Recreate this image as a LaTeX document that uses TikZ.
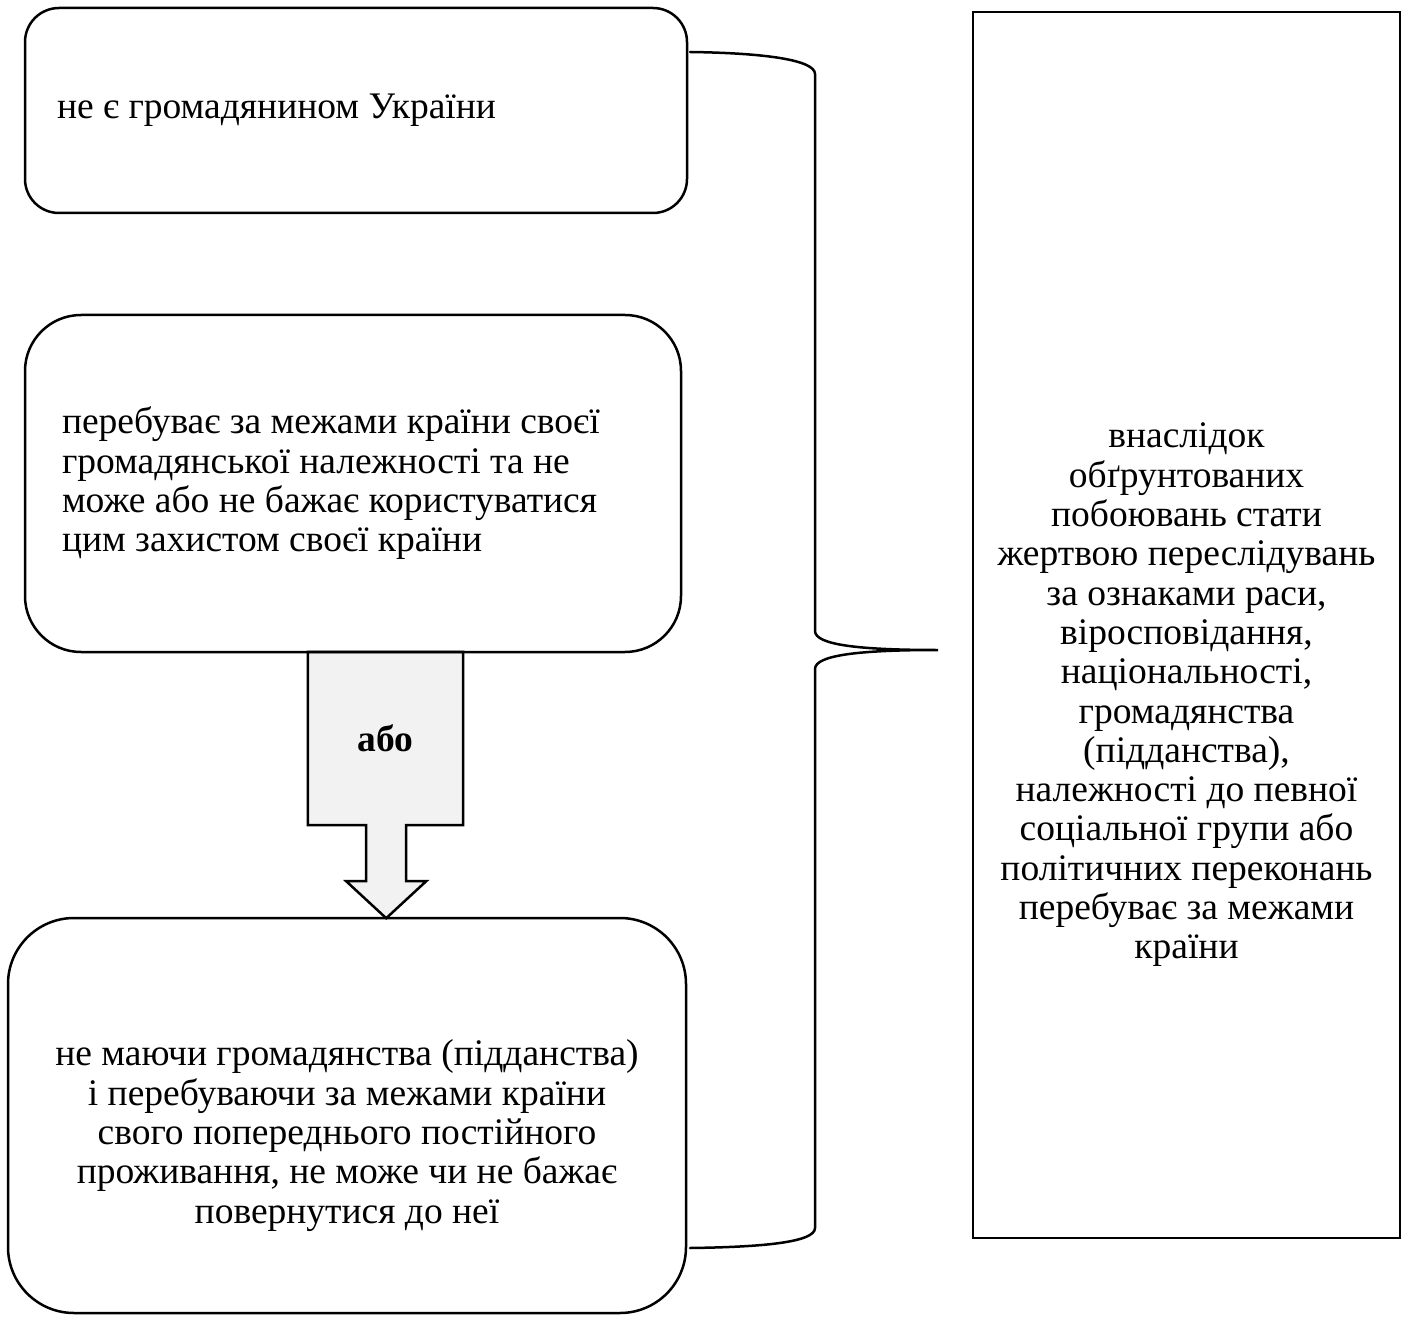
\documentclass[tikz,border=0pt]{standalone}
\usepackage{fontspec}
\setmainfont{Liberation Serif}
\usetikzlibrary{backgrounds}

\begin{document}
\begin{tikzpicture}[
    x=1pt,
    y=-1pt,
    font=\fontsize{37.5}{39.3}\selectfont,
    cond/.style={
        draw,
        line width=2.5pt,
        rounded corners=#1,
        inner ysep=0pt
    },
    cond/.default=34pt,
    result/.style={
        draw,
        line width=2.5pt,
        minimum width=427pt,
        minimum height=1226pt
    },
    orbody/.style={
        minimum width=155pt,
        minimum height=173pt,
        font=\fontsize{37.5}{39.3}\selectfont\bfseries
    },
    orfill/.style={draw, line width=2.5pt, fill=gray!10, line join=miter},
    brace/.style={line width=2.5pt, line cap=round}
]
\useasboundingbox (0,0) rectangle (1411,1321);

% ============================================================
% LEFT COLUMN
% ============================================================
\node[cond=34pt, minimum width=662pt, minimum height=205pt,
      inner xsep=32pt, text width=598pt, align=flush left]
    (citizen) at (356,110.5) {не є громадянином України};

\node[cond=56pt, minimum width=656pt, minimum height=337pt,
      inner xsep=37pt, text width=582pt, align=flush left]
    (abroad) at (353,483.5)
    {перебуває за межами країни своєї\\
     громадянської належності та не\\
     може або не бажає користуватися\\
     цим захистом своєї країни};

\node[cond=66pt, minimum width=678pt, minimum height=395pt,
      label={[yshift=-20pt, align=center]center:не маючи громадянства (підданства)\\
             і перебуваючи за межами країни\\
             свого попереднього постійного\\
             проживання, не може чи не бажає\\
             повернутися до неї}]
    (stateless) at (347,1115.5) {};

% ============================================================
% "АБО" ARROW
% ============================================================
\node[orbody] (orbox) at (385.5,738.5) {або};

\begin{scope}[on background layer]
\draw[orfill] (orbox.north west) -- (orbox.north east) -- (orbox.south east)
    -- ++(-57,0) -- ++(0,56) -- ++(20,0) -- ++(-40,37) -- ++(-40,-37)
    -- ++(20,0) -- ++(0,-56) -- (orbox.south west) -- cycle;
\end{scope}

% ============================================================
% RIGHT BOX AND BRACE
% ============================================================
\node[result,
      label={[yshift=-70pt, align=center]center:внаслідок\\
             обґрунтованих\\
             побоювань стати\\
             жертвою переслідувань\\
             за ознаками раси,\\
             віросповідання,\\
             національності,\\
             громадянства\\
             (підданства),\\
             належності до певної\\
             соціальної групи або\\
             політичних переконань\\
             перебуває за межами\\
             країни}]
    (refugee) at (1186.5,625) {};

\coordinate (btop) at (690,52);
\coordinate (bbot) at (690,1248);
\coordinate (btip) at (938,650);

\draw[brace] (btop) .. controls (765,53) and (815,60) .. (815,74)
    -- (815,631) .. controls (815,645) and (860,650) .. (btip)
    .. controls (860,650) and (815,655) .. (815,669)
    -- (815,1228) .. controls (815,1242) and (765,1247) .. (bbot);

\end{tikzpicture}
\end{document}
